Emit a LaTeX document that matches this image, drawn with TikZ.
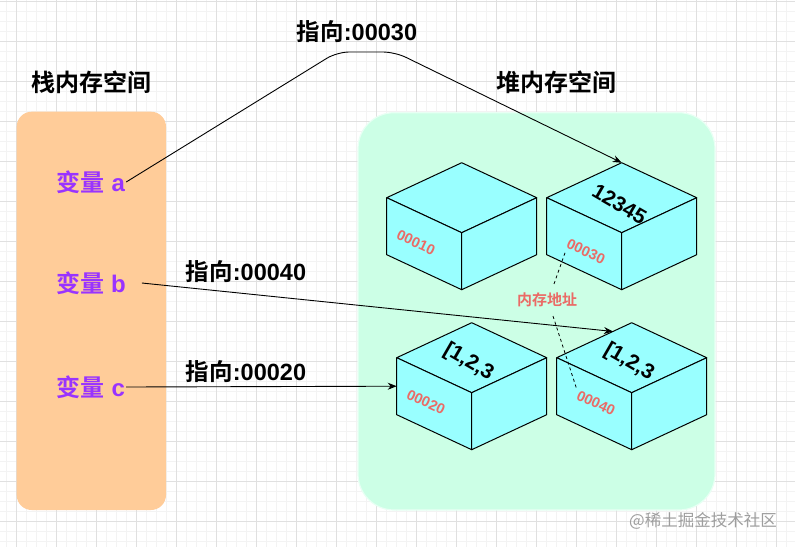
\documentclass[tikz,border=0pt]{standalone}
\usepackage{fontspec}
\setmainfont{Liberation Sans}
\newfontfamily\cjk{Noto Sans CJK SC}[BoldFont={Noto Sans CJK SC Bold}]
\usetikzlibrary{arrows.meta,calc}
\definecolor{stackfill}{HTML}{FFCC99}
\definecolor{heapfill}{HTML}{CCFFE6}
\definecolor{cubefill}{HTML}{99FFFF}
\definecolor{varpurple}{HTML}{9933FF}
\definecolor{addrred}{HTML}{EA6B66}
\definecolor{gridmajor}{HTML}{E0E0E0}
\definecolor{gridminor}{HTML}{F3F3F3}

\begin{document}
\begin{tikzpicture}[x=1pt, y=-1pt,
    region/.style={rectangle, inner sep=0pt},
    heading/.style={font=\fontsize{24}{28}\selectfont\bfseries, inner sep=0pt},
    varname/.style={font=\fontsize{24}{28}\selectfont\bfseries, text=varpurple, inner sep=1pt},
    pointer/.style={font=\fontsize{23.5}{28}\selectfont\bfseries, inner sep=0pt},
    face/.style={draw=black, fill=cubefill, line width=1pt, line join=round},
    value/.style={font=\fontsize{21}{24}\selectfont\bfseries, inner sep=0pt, rotate=-30},
    addr/.style={font=\fontsize{14.5}{17}\selectfont\bfseries, text=addrred, inner sep=0pt, rotate=-25},
    ptr/.style={-{Stealth[length=9pt,width=7pt]}, line width=0.9pt},
    memlink/.style={dash pattern=on 3pt off 3pt, line width=0.8pt},
  ]
    \useasboundingbox[fill=white] (0,0) rectangle (795,547);

    % Grid paper
    \foreach \gx in {6.7,16.7,...,800} \draw[gridminor, line width=0.6pt] (\gx,0) -- (\gx,547);
    \foreach \gy in {1.7,11.7,...,550} \draw[gridminor, line width=0.6pt] (0,\gy) -- (795,\gy);
    \foreach \gx in {16.7,56.7,...,800} \draw[gridmajor, line width=0.8pt] (\gx,0) -- (\gx,547);
    \foreach \gy in {1.7,41.7,...,550} \draw[gridmajor, line width=0.8pt] (0,\gy) -- (795,\gy);

    % Stack memory
    \node[region, fill=stackfill, rounded corners=15pt, minimum width=149.3pt, minimum height=398.3pt] (stack) at (91.35,310.85) {};
    \node[heading] (stacktitle) at (91,82) {\cjk 栈内存空间};
    \node[varname] (va) at (91,182) {{\cjk 变量} a};
    \node[varname] (vb) at (91,283) {{\cjk 变量} b};
    \node[varname] (vc) at (91,387) {{\cjk 变量} c};

    % Heap memory
    \node[region, fill=heapfill, draw=white!55!heapfill, line width=1.2pt, rounded corners=36pt, minimum width=357pt, minimum height=397.3pt] (heap) at (536.5,311.35) {};
    \node[heading] (heaptitle) at (556,82) {\cjk 堆内存空间};

    % Memory cells
    \foreach \n/\cx/\cy in {m10/386.7/197.7, m30/546.7/197.7, m20/396.7/357.7, m40/556.7/357.7}{
        \coordinate (\n-l) at (\cx,\cy);
        \coordinate (\n-t) at ($(\n-l)+(75,-35)$);
        \coordinate (\n-r) at ($(\n-l)+(150,0)$);
        \coordinate (\n-f) at ($(\n-l)+(75,35)$);
        \draw[face] (\n-l) -- (\n-t) -- (\n-r) -- (\n-f) -- cycle;
        \draw[face] (\n-l) -- (\n-f) -- ++(0,57) -- ++(-75,-35) -- cycle;
        \draw[face] (\n-f) -- (\n-r) -- ++(0,57) -- ++(-75,35) -- cycle;
    }
    \node[value] (v30) at (619.5,204) {12345};
    \node[value] (v20) at (468.5,362) {[1,2,3};
    \node[value] (v40) at (629,362) {[1,2,3};
    \node[addr] (a10) at (416,242.5) {00010};
    \node[addr] (a30) at (586,251.5) {00030};
    \node[addr] (a20) at (426,402) {00020};
    \node[addr] (a40) at (596,403) {00040};

    % Address note
    \node[font=\fontsize{15}{17}\selectfont\cjk\bfseries, text=addrred, inner sep=0pt, outer sep=9pt] (addrnote) at (547,300) {内存地址};
    \coordinate (tag30) at (566,250);
    \coordinate (tag40) at (577,390);
    \draw[memlink] ([xshift=7pt]addrnote.north) -- (tag30);
    \draw[memlink] ([xshift=6pt]addrnote.south) -- (tag40);

    % References from stack to heap
    \node[pointer] (pa) at (357,32) {{\cjk 指向}:00030};
    \node[pointer] (pb) at (246,271.5) {{\cjk 指向}:00040};
    \node[pointer] (pc) at (246,371.5) {{\cjk 指向}:00020};
    \draw[ptr, rounded corners=12pt] (va.east) -- (337,52) -- (395,52) -- (m30-t);
    \draw[ptr] ([xshift=15pt]vb.east) -- ($(m40-l)!0.75!(m40-t)$);
    \draw[ptr] (vc.east) -- ($(m20-l)+(0,28.5)$);

    % Watermark
    \node[font=\fontsize{16.5}{19}\selectfont\cjk, text=black!38, inner sep=0pt] (mark) at (703,521) {@稀土掘金技术社区};
\end{tikzpicture}
\end{document}
